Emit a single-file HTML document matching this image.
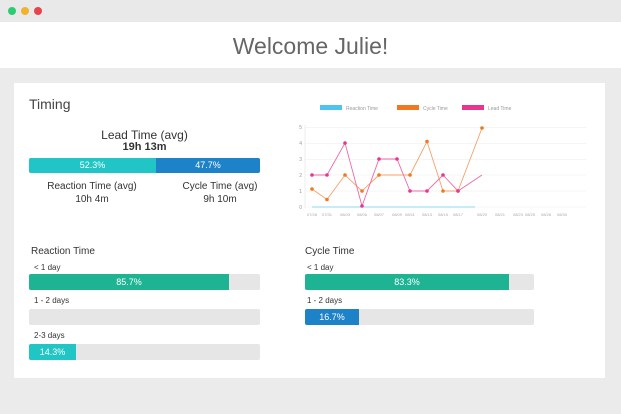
<!DOCTYPE html>
<html><head><meta charset="utf-8"><style>
body{margin:0;width:621px;height:414px;background:#ebebeb;font-family:"Liberation Sans",sans-serif;position:relative;overflow:hidden;color:#444}
.a{position:absolute}
.t{position:absolute;white-space:nowrap;font-size:9px;color:#333}
.bar{position:absolute;height:16px;background:#e6e6e6;border-radius:2px;overflow:hidden}
.bar div{height:100%;color:#fff;font-size:9px;text-align:center;line-height:16px;float:left}
</style></head><body>
<div class="a" style="left:0;top:0;width:621px;height:22px;background:#e9e9e9"></div>
<div class="a" style="left:8px;top:7px;width:8px;height:8px;border-radius:50%;background:#2ecc71"></div>
<div class="a" style="left:21px;top:7px;width:8px;height:8px;border-radius:50%;background:#f1b32b"></div>
<div class="a" style="left:34px;top:7px;width:8px;height:8px;border-radius:50%;background:#e8434b"></div>
<div class="a" style="left:0;top:22px;width:621px;height:46px;background:#fff"></div>
<div class="t" style="left:0;width:621px;text-align:center;top:33px;font-size:23px;color:#666">Welcome Julie!</div>
<div class="a" style="left:14px;top:83px;width:591px;height:295px;background:#fff"></div>
<div class="t" style="left:29px;top:96px;font-size:14px;color:#444">Timing</div>
<div class="t" style="left:29px;width:231px;text-align:center;top:128px;font-size:12px">Lead Time (avg)</div>
<div class="t" style="left:29px;width:231px;text-align:center;top:141px;font-size:11px;font-weight:bold;color:#333">19h 13m</div>
<div class="bar" style="left:29px;top:158px;width:231px;height:15px"><div style="width:127px;background:#22c5c5;line-height:15px">52.3%</div><div style="width:104px;background:#1e82c8;line-height:15px">47.7%</div></div>
<div class="t" style="left:40px;width:104px;text-align:center;top:181px;font-size:10px">Reaction Time (avg)</div>
<div class="t" style="left:40px;width:104px;text-align:center;top:194px;font-size:10px">10h 4m</div>
<div class="t" style="left:168px;width:104px;text-align:center;top:181px;font-size:10px">Cycle Time (avg)</div>
<div class="t" style="left:168px;width:104px;text-align:center;top:194px;font-size:10px">9h 10m</div>

<svg class="a" style="left:0;top:0" width="621" height="414" font-family="Liberation Sans" font-size="5" fill="#999">
<rect x="320" y="105" width="22" height="5" fill="#4ec3ef"/><text x="346" y="110">Reaction Time</text>
<rect x="397" y="105" width="22" height="5" fill="#f07820"/><text x="423" y="110">Cycle Time</text>
<rect x="462" y="105" width="22" height="5" fill="#e8368f"/><text x="488" y="110">Lead Time</text>
<g stroke="#f2f2f2" stroke-width="0.8">
<line x1="305" x2="586" y1="127.5" y2="127.5"/><line x1="305" x2="586" y1="143.5" y2="143.5"/><line x1="305" x2="586" y1="159.5" y2="159.5"/><line x1="305" x2="586" y1="175" y2="175"/><line x1="305" x2="586" y1="191" y2="191"/><line x1="305" x2="586" y1="207" y2="207"/></g>
<line x1="305" x2="305" y1="125" y2="208" stroke="#eee"/>
<g text-anchor="end"><text x="302" y="129">5</text><text x="302" y="145">4</text><text x="302" y="161">3</text><text x="302" y="177">2</text><text x="302" y="193">1</text><text x="302" y="209">0</text></g>
<g font-size="4" fill="#aaa" text-anchor="middle">
<text x="312" y="216">07/28</text><text x="327" y="216">07/31</text><text x="345" y="216">08/03</text><text x="362" y="216">08/06</text><text x="379" y="216">08/07</text><text x="397" y="216">08/09</text><text x="410" y="216">08/11</text><text x="427" y="216">08/13</text><text x="443" y="216">08/15</text><text x="458" y="216">08/17</text><text x="482" y="216">08/20</text><text x="500" y="216">08/21</text><text x="518" y="216">08/23</text><text x="530" y="216">08/25</text><text x="546" y="216">08/28</text><text x="562" y="216">08/30</text></g>
<line x1="312" x2="475" y1="207" y2="207" stroke="#8dd8f0" stroke-width="1"/>
<polyline fill="none" stroke="#f5a26a" stroke-width="0.9" points="312,189 327,199.5 345,175 362,191 379,175 397,175 410,175 427,141.5 443,191 458,191 482,128"/>
<polyline fill="none" stroke="#ee6aa8" stroke-width="0.9" points="312,175 327,175 345,143 362,206 379,159 397,159 410,191 427,191 443,175 458,191 482,175"/>
<g fill="#f07820"><circle cx="312" cy="189" r="1.8"/><circle cx="327" cy="199.5" r="1.8"/><circle cx="345" cy="175" r="1.8"/><circle cx="362" cy="191" r="1.8"/><circle cx="379" cy="175" r="1.8"/><circle cx="410" cy="175" r="1.8"/><circle cx="427" cy="141.5" r="1.8"/><circle cx="443" cy="191" r="1.8"/><circle cx="458" cy="191" r="1.8"/><circle cx="482" cy="128" r="1.8"/></g>
<g fill="#e8368f"><circle cx="312" cy="175" r="1.8"/><circle cx="327" cy="175" r="1.8"/><circle cx="345" cy="143" r="1.8"/><circle cx="362" cy="206" r="1.8"/><circle cx="379" cy="159" r="1.8"/><circle cx="397" cy="159" r="1.8"/><circle cx="410" cy="191" r="1.8"/><circle cx="427" cy="191" r="1.8"/><circle cx="443" cy="175" r="1.8"/><circle cx="458" cy="191" r="1.8"/></g>
</svg>

<div class="t" style="left:31px;top:246px;font-size:10px">Reaction Time</div>
<div class="t" style="left:34px;top:263px;font-size:8px">&lt; 1 day</div>
<div class="bar" style="left:29px;top:274px;width:231px"><div style="width:200px;background:#1db393">85.7%</div></div>
<div class="t" style="left:34px;top:296px;font-size:8px">1 - 2 days</div>
<div class="bar" style="left:29px;top:309px;width:231px"></div>
<div class="t" style="left:34px;top:331px;font-size:8px">2-3 days</div>
<div class="bar" style="left:29px;top:344px;width:231px"><div style="width:47px;background:#22c5c5">14.3%</div></div>

<div class="t" style="left:305px;top:246px;font-size:10px">Cycle Time</div>
<div class="t" style="left:307px;top:263px;font-size:8px">&lt; 1 day</div>
<div class="bar" style="left:305px;top:274px;width:229px"><div style="width:204px;background:#1db393">83.3%</div></div>
<div class="t" style="left:307px;top:296px;font-size:8px">1 - 2 days</div>
<div class="bar" style="left:305px;top:309px;width:229px"><div style="width:54px;background:#1e82c8">16.7%</div></div>
</body></html>
